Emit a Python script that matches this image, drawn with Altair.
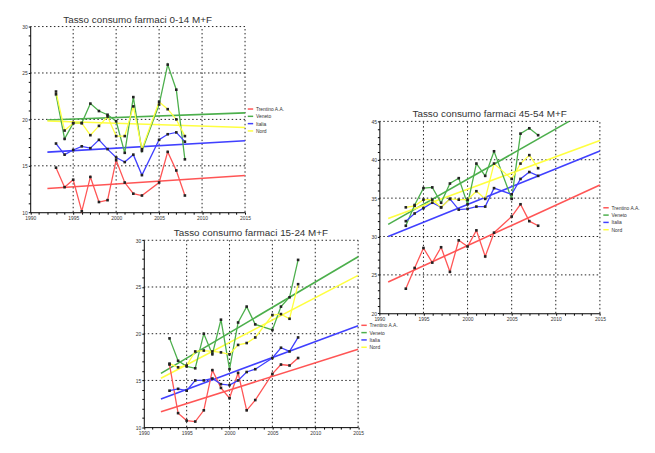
import altair as alt
import pandas as pd

# ---------------- data ----------------
series = ["Trentino A.A.", "Veneto", "Italia", "Nord"]
colors = ["#ff5555", "#4caf4c", "#4040ff", "#ffff40"]

years = [1993, 1994, 1995, 1996, 1997, 1998, 1999, 2000, 2001, 2002, 2003,
         2005, 2006, 2007, 2008]

# Panel 0-14
p1_trentino = [14.8, 12.7, 13.5, 10.1, 13.8, 11.1, 11.3, 15.6, 13.2, 12.0, 11.8, 13.2, 16.5, 14.5, 11.8]
p1_veneto   = [22.7, 17.9, 19.6, 19.6, 21.7, 20.9, 20.5, 19.8, 16.4, 22.4, 16.6, 21.6, 25.9, 23.2, 15.7]
p1_italia   = [17.4, 16.2, 16.7, 17.1, 16.9, 17.8, 16.8, 15.9, 15.4, 16.2, 14.0, 17.8, 18.4, 18.6, 17.6]
p1_nord     = [23.0, 18.8, 19.6, 19.6, 18.3, 19.3, 20.3, 18.2, 18.2, 21.4, 16.8, 21.9, 21.1, 20.0, 18.2]
p1_trend_years = [1992, 2015]
p1_trend_start = [12.55, 19.93, 16.47, 19.83]
p1_trend_end   = [13.95, 20.70, 17.70, 19.13]

# Panel 45-54
p2_trentino = [23.2, 25.9, 28.5, 26.6, 28.6, 25.4, 29.5, 28.7, 30.8, 27.4, 30.5, 32.6, 34.2, 32.0, 31.4]
p2_veneto   = [31.4, 34.1, 36.3, 36.4, 34.4, 36.9, 37.6, 34.2, 39.5, 37.9, 41.1, 34.9, 43.4, 44.1, 43.2]
p2_italia   = [32.0, 33.0, 33.7, 34.4, 33.8, 34.9, 33.5, 33.6, 33.9, 33.9, 36.3, 35.5, 37.5, 38.4, 37.9]
p2_nord     = [33.8, 34.0, 34.8, 34.8, 33.8, 34.9, 34.8, 34.8, 35.9, 34.9, 39.5, 37.5, 39.5, 40.6, 38.9]
p2_trend_start_years = [1991, 1991, 1991, 1991]
p2_trend_end_years   = [2015, 2011.5, 2015, 2015]
p2_trend_start = [24.07, 31.58, 30.0, 32.35]
p2_trend_end   = [36.72, 45.0, 41.14, 42.51]

# Panel 15-24
p3_trentino = [16.7, 11.5, 10.7, 10.6, 11.8, 16.1, 14.2, 13.1, 15.8, 11.8, 12.9, 15.7, 16.7, 16.6, 17.4]
p3_veneto   = [19.5, 17.1, 16.5, 16.3, 20.0, 17.8, 21.5, 16.2, 21.2, 22.9, 21.0, 20.4, 22.9, 23.9, 27.9]
p3_italia   = [13.9, 14.1, 13.9, 15.0, 15.0, 15.2, 14.6, 14.5, 15.0, 15.9, 16.2, 17.4, 18.5, 18.1, 19.6]
p3_nord     = [16.8, 16.4, 16.6, 18.1, 18.2, 18.1, 18.0, 17.8, 18.8, 19.0, 19.6, 22.0, 22.1, 21.6, 25.3]
p3_trend_years = [1992, 2015]
p3_trend_start = [11.65, 15.76, 13.02, 15.24]
p3_trend_end   = [18.33, 28.24, 20.86, 26.24]

x_grid = [1995, 2000, 2005, 2010, 2015]

W, H = 647, 445
FONT = "Liberation Sans"


def long_df(vals):
    rows = []
    for s, v in zip(series, vals):
        for y, val in zip(years, v):
            rows.append({"year": y, "value": val, "serie": s})
    return pd.DataFrame(rows)


def trend_df(y0s, y1s, v0s, v1s):
    rows = []
    for s, a, b, c, d in zip(series, y0s, y1s, v0s, v1s):
        rows.append({"year": a, "value": c, "serie": s})
        rows.append({"year": b, "value": d, "serie": s})
    return pd.DataFrame(rows)


def panel(title, df, tdf, ydom, ygrid, xr, yr, legxy):
    xs = alt.Scale(domain=[1990, 2015], range=xr, nice=False, zero=False)
    ys = alt.Scale(domain=ydom, range=yr, nice=False, zero=False)
    common = dict(format="d", labelExpr="datum.value % 5 === 0 ? datum.label : ''",
                  tickSize=2, tickColor="black", tickWidth=1, domainColor="black",
                  domainWidth=1, labelFontSize=5, labelColor="#333", labelFont=FONT,
                  labelOverlap=False, labelFlush=False, labelPadding=1, grid=False,
                  title=None)
    xaxis = alt.Axis(orient="bottom", offset=yr[0] - H,
                     values=list(range(1990, 2016)), **common)
    yaxis = alt.Axis(orient="left", offset=-xr[0],
                     values=list(range(ydom[0], ydom[1] + 1)), **common)
    cscale = alt.Scale(domain=series, range=colors)
    legend = alt.Legend(orient="none", legendX=legxy[0], legendY=legxy[1], title=None,
                        labelFontSize=5, labelFont=FONT, labelColor="#333",
                        symbolType="stroke", symbolSize=30, symbolStrokeWidth=1.5,
                        rowPadding=0.4, labelOffset=2, padding=0)
    dash = [1.5, 2.5]

    vgrid = alt.Chart(pd.DataFrame({"g": x_grid})).mark_rule(
        color="#222", strokeDash=dash, strokeWidth=1).encode(
        x=alt.X("g:Q", scale=xs, axis=xaxis),
        y=alt.datum(ydom[0], scale=ys, axis=yaxis),
        y2=alt.datum(ydom[1]))
    hgrid = alt.Chart(pd.DataFrame({"g": ygrid})).mark_rule(
        color="#222", strokeDash=dash, strokeWidth=1).encode(
        y=alt.Y("g:Q", scale=ys, axis=yaxis),
        x=alt.datum(1990, scale=xs, axis=xaxis),
        x2=alt.datum(2015))
    trends = alt.Chart(tdf).mark_line(strokeWidth=1.6).encode(
        x=alt.X("year:Q", scale=xs, axis=xaxis),
        y=alt.Y("value:Q", scale=ys, axis=yaxis),
        color=alt.Color("serie:N", scale=cscale, legend=legend))
    lines = alt.Chart(df).mark_line(strokeWidth=1.3).encode(
        x=alt.X("year:Q", scale=xs, axis=xaxis),
        y=alt.Y("value:Q", scale=ys, axis=yaxis),
        color=alt.Color("serie:N", scale=cscale, legend=legend),
        order="year:Q")
    pts = alt.Chart(df).mark_point(shape="square", filled=True, size=7, color="#222",
                                   opacity=1).encode(
        x=alt.X("year:Q", scale=xs, axis=xaxis),
        y=alt.Y("value:Q", scale=ys, axis=yaxis))
    ttl = alt.Chart(pd.DataFrame({"t": [title]})).mark_text(
        fontSize=10, font=FONT, color="#333", baseline="bottom", align="center", dy=-2).encode(
        x=alt.datum(2002.5, scale=xs, axis=xaxis),
        y=alt.datum(ydom[1], scale=ys, axis=yaxis),
        text="t:N")
    return alt.layer(vgrid, hgrid, trends, lines, pts, ttl)


p1 = panel("Tasso consumo farmaci 0-14 M+F",
           long_df([p1_trentino, p1_veneto, p1_italia, p1_nord]),
           trend_df([p1_trend_years[0]] * 4, [p1_trend_years[1]] * 4, p1_trend_start, p1_trend_end),
           [10, 30], [15, 20, 25, 30], [22.5, 240], [204, 16], (242, 96))
p2 = panel("Tasso consumo farmaci 45-54 M+F",
           long_df([p2_trentino, p2_veneto, p2_italia, p2_nord]),
           trend_df(p2_trend_start_years, p2_trend_end_years, p2_trend_start, p2_trend_end),
           [20, 45], [25, 30, 35, 40, 45], [376, 599.3], [306.3, 112], (602, 196))
p3 = panel("Tasso consumo farmaci 15-24 M+F",
           long_df([p3_trentino, p3_veneto, p3_italia, p3_nord]),
           trend_df([p3_trend_years[0]] * 4, [p3_trend_years[1]] * 4, p3_trend_start, p3_trend_end),
           [10, 30], [15, 20, 25, 30], [137.5, 354.5], [421.6, 232.4], (357, 315))

chart = alt.layer(p1, p2, p3).resolve_scale(
    x="independent", y="independent", color="independent"
).properties(
    width=W, height=H, padding=0, autosize=alt.AutoSizeParams(type="none"),
    background="white"
).configure_view(stroke=None)

chart.save("out.html", embed_options={"renderer": "svg", "actions": False})
